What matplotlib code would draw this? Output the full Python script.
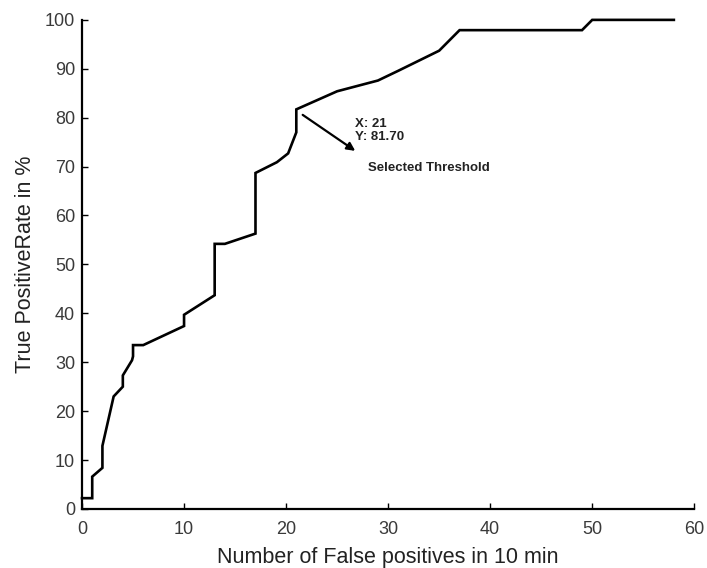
import matplotlib
matplotlib.use("Agg")
import matplotlib.pyplot as plt

# ROC-like curve
fp = [0, 1.0, 1.0, 2.0, 2.0, 3.1, 4.0, 4.0, 4.9, 5.0, 5.0, 6.0, 10.0, 10.0, 13.0, 13.0,
      14.0, 17.0, 17.0, 19.1, 20.2, 21.0, 21.0, 25.0, 29.0, 31.0, 35.0, 37.0, 49.0, 50.0, 58.0]
tpr = [2.2, 2.2, 6.6, 8.4, 12.9, 23.0, 25.0, 27.3, 30.4, 31.2, 33.5, 33.5, 37.4, 39.7, 43.7, 54.2,
       54.2, 56.3, 68.7, 70.9, 72.7, 77.0, 81.7, 85.4, 87.6, 89.6, 93.7, 97.9, 97.9, 100, 100]
sel_x, sel_y = 21, 81.70
xticks = [0, 10, 20, 30, 40, 50, 60]
yticks = [0, 10, 20, 30, 40, 50, 60, 70, 80, 90, 100]

plt.rcParams["font.family"] = ["Liberation Sans", "DejaVu Sans"]
fig = plt.figure(figsize=(7.07, 5.68), dpi=100)
ax = fig.add_axes([0.116, 0.104, 0.866, 0.861])

ax.plot(fp, tpr, color="black", lw=1.9, solid_joinstyle="miter", clip_on=False)
ax.set_xlim(0, 60)
ax.set_ylim(0, 100)
ax.set_xticks(xticks)
ax.set_yticks(yticks)
for s in ("top", "right"):
    ax.spines[s].set_visible(False)
for s in ("left", "bottom"):
    ax.spines[s].set_linewidth(1.6)
ax.tick_params(direction="in", length=4, width=1, labelsize=13, labelcolor="#3a3a3a")
ax.tick_params(axis="x", pad=9)
ax.tick_params(axis="y", pad=5)
ax.set_xlabel("Number of False positives in 10 min", fontsize=15.5, color="#222222", labelpad=6)
ax.set_ylabel("True PositiveRate in %", fontsize=15.5, color="#222222", labelpad=6)

ax.annotate("", xy=(27.0, 72.9), xytext=(21.4, 80.9),
            arrowprops=dict(arrowstyle="-|>", color="black", lw=1.6, mutation_scale=12))
ax.text(26.8, 77.3, f"X: {sel_x}\nY: {sel_y:.2f}", fontsize=9.5, fontweight="bold",
        va="center", ha="left", linespacing=1.12, color="#222222")
ax.text(28.0, 69.8, "Selected Threshold", fontsize=9.5, fontweight="bold", va="center",
        ha="left", color="#222222")

fig.savefig("out.png", dpi=100)
